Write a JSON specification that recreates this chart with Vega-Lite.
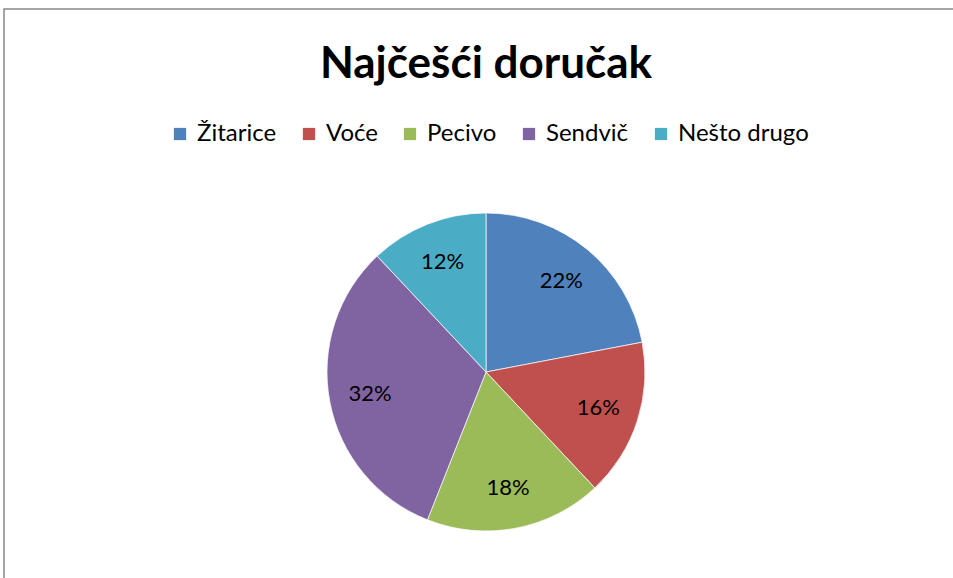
{
  "$schema": "https://vega.github.io/schema/vega-lite/v6.json",
  "autosize": {"type": "none"},
  "width": 964,
  "height": 726,
  "padding": {"left": 4, "top": 9, "right": 0, "bottom": 0},
  "background": "white",
  "view": {"stroke": "#888888", "strokeWidth": 1.5, "fill": "white"},
  "config": {
    "view": {"stroke": "#888888", "strokeWidth": 1.5},
    "font": "Lato"
  },
  "title": {
    "text": "Najčešći doručak",
    "fontSize": 44,
    "font": "Lato",
    "fontWeight": "bold",
    "color": "black",
    "anchor": "middle",
    "offset": -78
  },
  "data": {
    "values": [
      {"idx": 1, "category": "Žitarice", "value": 22, "label": "22%"},
      {"idx": 2, "category": "Voće", "value": 16, "label": "16%"},
      {"idx": 3, "category": "Pecivo", "value": 18, "label": "18%"},
      {"idx": 4, "category": "Sendvič", "value": 32, "label": "32%"},
      {"idx": 5, "category": "Nešto drugo", "value": 12, "label": "12%"}
    ]
  },
  "encoding": {
    "theta": {"field": "value", "type": "quantitative", "stack": true},
    "order": {"field": "idx", "type": "quantitative"}
  },
  "layer": [
    {
      "mark": {"type": "arc", "outerRadius": 159, "stroke": "white", "strokeWidth": 0.7},
      "encoding": {
        "color": {
          "field": "category",
          "type": "nominal",
          "sort": ["Žitarice", "Voće", "Pecivo", "Sendvič", "Nešto drugo"],
          "scale": {
            "domain": ["Žitarice", "Voće", "Pecivo", "Sendvič", "Nešto drugo"],
            "range": ["#4F81BD", "#C0504D", "#9BBB59", "#8064A2", "#4BACC6"]
          },
          "legend": {
            "title": null,
            "orient": "none",
            "legendX": 164,
            "legendY": 113,
            "direction": "horizontal",
            "columns": 5,
            "symbolType": "square",
            "symbolSize": 150,
            "symbolStrokeWidth": 0,
            "labelFontSize": 24,
            "labelFont": "Lato",
            "labelColor": "black",
            "columnPadding": 20,
            "labelOffset": 5,
            "labelLimit": 300
          }
        }
      }
    },
    {
      "mark": {"type": "text", "radius": 118, "fontSize": 22, "font": "Lato", "fill": "black", "color": "black"},
      "encoding": {"text": {"field": "label", "type": "nominal"}}
    }
  ]
}
